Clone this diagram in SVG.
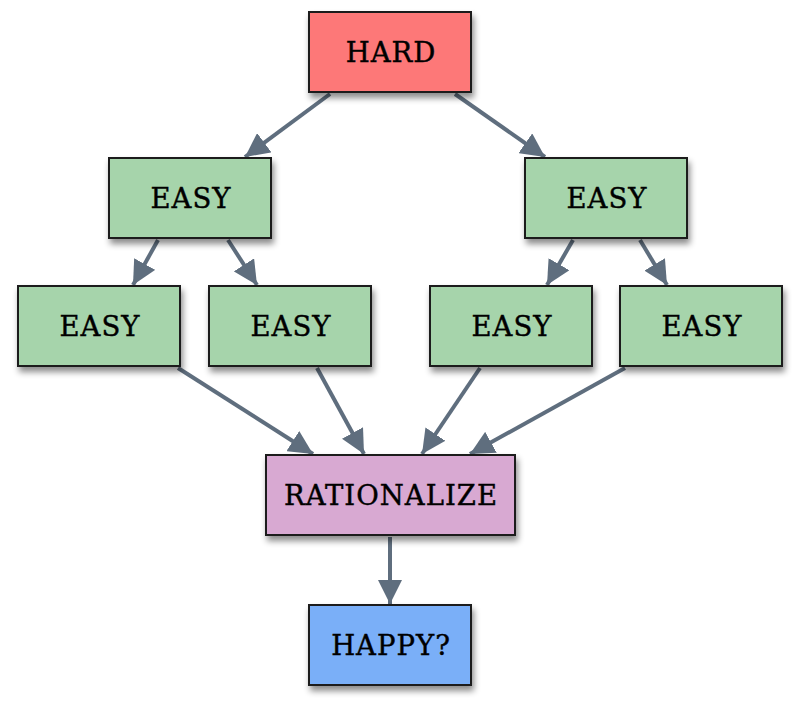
<svg xmlns="http://www.w3.org/2000/svg" width="800" height="710" viewBox="0 0 800 710">
<defs>
<filter id="sh" x="-20%" y="-20%" width="150%" height="160%">
<feDropShadow dx="2" dy="5" stdDeviation="3" flood-color="#000" flood-opacity="0.45"/>
</filter>
<marker id="ah" markerUnits="userSpaceOnUse" markerWidth="26" markerHeight="24" refX="24" refY="12" orient="auto">
<path d="M0,0 L24,12 L0,24 Z" fill="#5f6e7e"/>
</marker>
<style>
.box{stroke:#1a1a1a;stroke-width:2;filter:url(#sh)}
.easy{fill:#a6d4ab}
.t{font-family:"DejaVu Serif","Liberation Serif",serif;font-size:27.5px;fill:#000;stroke:#000;stroke-width:0.4px;text-anchor:middle;letter-spacing:1px}
.c{stroke:#5f6e7e;stroke-width:4;fill:none;marker-end:url(#ah)}
</style>
</defs>
<rect width="800" height="710" fill="#fff"/>
<g id="connectors">
<line class="c" x1="330" y1="94" x2="245" y2="157"/>
<line class="c" x1="455" y1="94" x2="545" y2="157"/>
<line class="c" x1="158" y1="240" x2="133" y2="285"/>
<line class="c" x1="228" y1="240" x2="257" y2="285"/>
<line class="c" x1="573" y1="240" x2="547" y2="285"/>
<line class="c" x1="640" y1="240" x2="667" y2="285"/>
<line class="c" x1="178" y1="368" x2="313" y2="454"/>
<line class="c" x1="317" y1="368" x2="364" y2="454"/>
<line class="c" x1="480" y1="368" x2="422" y2="454"/>
<line class="c" x1="625" y1="368" x2="470" y2="454"/>
<line class="c" x1="390" y1="537" x2="390" y2="604"/>
</g>
<g id="hard"><rect class="box" x="309" y="12" width="162" height="80" fill="#fd7878"/><text class="t" x="391" y="62">HARD</text></g>
<g id="easy1"><rect class="box easy" x="109" y="158" width="162" height="80"/><text class="t" x="191" y="208">EASY</text></g>
<g id="easy2"><rect class="box easy" x="525" y="158" width="162" height="80"/><text class="t" x="607" y="208">EASY</text></g>
<g id="easy3"><rect class="box easy" x="18" y="286" width="162" height="80"/><text class="t" x="100" y="336">EASY</text></g>
<g id="easy4"><rect class="box easy" x="209" y="286" width="162" height="80"/><text class="t" x="291" y="336">EASY</text></g>
<g id="easy5"><rect class="box easy" x="430" y="286" width="162" height="80"/><text class="t" x="512" y="336">EASY</text></g>
<g id="easy6"><rect class="box easy" x="620" y="286" width="162" height="80"/><text class="t" x="702" y="336">EASY</text></g>
<g id="rationalize"><rect class="box" x="266" y="455" width="249" height="80" fill="#d8a9d2"/><text class="t" x="391" y="505">RATIONALIZE</text></g>
<g id="happy"><rect class="box" x="309" y="605" width="162" height="80" fill="#7aaff8"/><text class="t" x="391" y="655">HAPPY?</text></g>
</svg>
